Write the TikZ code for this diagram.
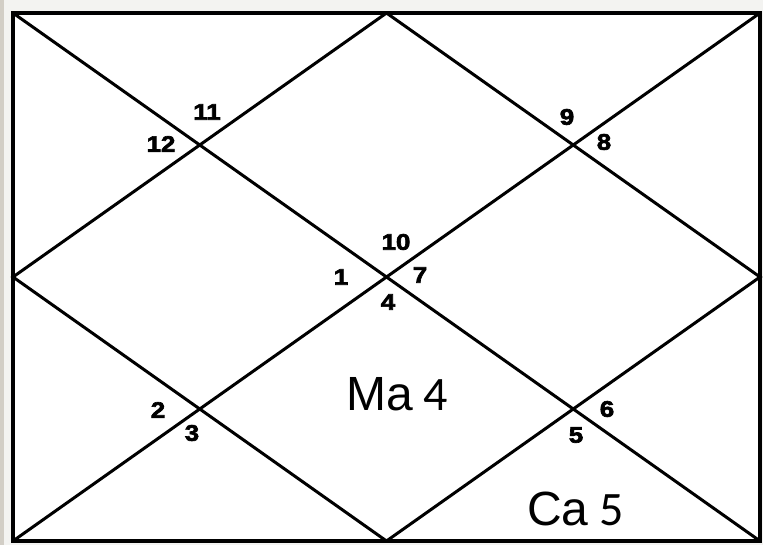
\documentclass[tikz,border=0pt]{standalone}
\usepackage{fontspec}
\setmainfont{Liberation Sans}
\newfontfamily\numfont{Liberation Sans Bold}[FakeStretch=1.15,FakeBold=3]
\newfontfamily\carl{Carlito}
\newfontfamily\arl{Liberation Sans}
\definecolor{bgpale}{HTML}{F3F3F1}
\definecolor{bgside}{HTML}{D2CEC6}
\tikzset{
  frame/.style={draw=black, line width=4pt},
  grid line/.style={draw=black, line width=3pt},
  house/.style={inner sep=0pt, font=\numfont\fontsize{22.5}{22.5}\selectfont},
  planet/.style={inner sep=0pt, anchor=base west, font=\fontsize{48}{48}\selectfont}
}
\begin{document}
\begin{tikzpicture}[x=1pt,y=-1pt]
\useasboundingbox (0,0) rectangle (763,545);
\fill[bgpale] (0,0) rectangle (763,545);
\fill[bgside] (0,0) rectangle (4,545);
\fill[white] (13,13) rectangle (760,541);
% corners and midpoints
\coordinate (tl) at (13,13);
\coordinate (tr) at (760,13);
\coordinate (bl) at (13,541);
\coordinate (br) at (760,541);
\coordinate (tm) at (386.5,13);
\coordinate (bm) at (386.5,541);
\coordinate (lm) at (13,277);
\coordinate (rm) at (760,277);
% diagonals
\draw[grid line] (tl) -- (br);
\draw[grid line] (tr) -- (bl);
% inner diamond
\draw[grid line] (tm) -- (rm) -- (bm) -- (lm) -- cycle;
% frame
\draw[frame] (tl) rectangle (br);
% house numbers
\node[house] (h11) at (207,112) {11};
\node[house] (h12) at (161,144) {12};
\node[house] (h9) at (567,117) {9};
\node[house] (h8) at (604,142) {8};
\node[house] (h10) at (396,242) {10};
\node[house] (h1) at (341,277) {1};
\node[house] (h7) at (420,275) {7};
\node[house] (h4) at (388,302) {4};
\node[house] (h2) at (158,410) {2};
\node[house] (h3) at (192,433) {3};
\node[house] (h6) at (607,409) {6};
\node[house] (h5) at (576,435) {5};
% planets
\node[planet] (ma) at (346,410) {\arl Ma\carl\ 4};
\node[planet] (ca) at (527,525) {\arl Ca\carl\ 5};
\end{tikzpicture}
\end{document}
